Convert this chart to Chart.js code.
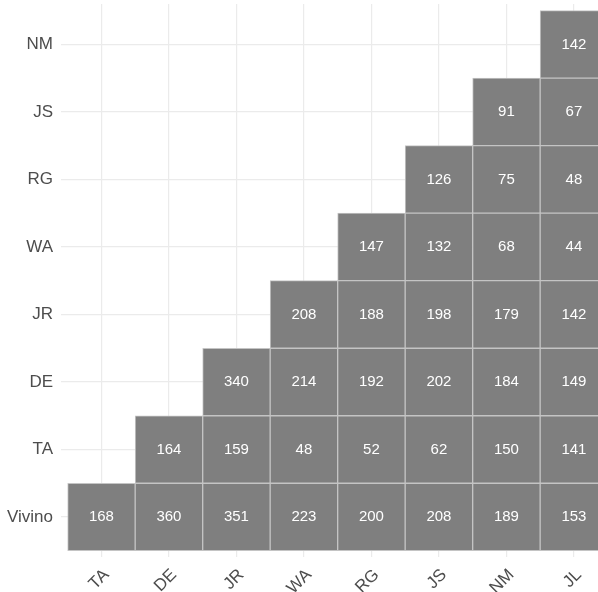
<!DOCTYPE html>
<html>
<head>
<meta charset="utf-8">
<script src="https://cdn.jsdelivr.net/npm/chart.js@4"></script>
<style>
  html, body { margin: 0; padding: 0; background: #fff; overflow: hidden; }
  canvas { display: block; }
</style>
</head>
<body>
<canvas id="heat" width="598" height="592"></canvas>
<script>
// columns left to right, rows bottom to top
const cols = ['TA', 'DE', 'JR', 'WA', 'RG', 'JS', 'NM', 'JL'];
const rows = ['Vivino', 'TA', 'DE', 'JR', 'WA', 'RG', 'JS', 'NM'];

const vivino = [168, 360, 351, 223, 200, 208, 189, 153];
const ta = [null, 164, 159, 48, 52, 62, 150, 141];
const de = [null, null, 340, 214, 192, 202, 184, 149];
const jr = [null, null, null, 208, 188, 198, 179, 142];
const wa = [null, null, null, null, 147, 132, 68, 44];
const rg = [null, null, null, null, null, 126, 75, 48];
const js = [null, null, null, null, null, null, 91, 67];
const nm = [null, null, null, null, null, null, null, 142];

const rowValues = [vivino, ta, de, jr, wa, rg, js, nm];

const tickColor = '#4d4d4d';
const fontFamily = '"Liberation Sans", Arial, Helvetica, sans-serif';

const datasets = rowValues.map(function(vals, r) {
    const pts = [];
    vals.forEach(function(v, c) {
        if (v !== null) pts.push({ x: c, y: [r - 0.5, r + 0.5], v: v });
    });
    return {
        label: rows[r],
        data: pts,
        backgroundColor: '#7f7f7f',
        borderColor: '#c4c4c4',
        borderWidth: 1,
        borderSkipped: false,
        categoryPercentage: 1,
        barPercentage: 1,
        grouped: false
    };
});

// write the count in the middle of each tile
const cellLabels = {
    id: 'cellLabels',
    afterDatasetsDraw(chart) {
        const ctx = chart.ctx;
        ctx.save();
        ctx.fillStyle = '#ffffff';
        ctx.font = '15px ' + fontFamily;
        ctx.textAlign = 'center';
        ctx.textBaseline = 'middle';
        chart.data.datasets.forEach(function(ds, i) {
            chart.getDatasetMeta(i).data.forEach(function(bar, j) {
                const yMid = (bar.y + bar.base) / 2;
                ctx.fillText(String(ds.data[j].v), bar.x, yMid);
            });
        });
        ctx.restore();
    }
};

function noPad(scale) {
    scale.paddingTop = 0;
    scale.paddingBottom = 0;
    scale.paddingLeft = 0;
    scale.paddingRight = 0;
}

new Chart(document.getElementById('heat'), {
    type: 'bar',
    data: { datasets: datasets },
    plugins: [cellLabels],
    options: {
        responsive: false,
        animation: false,
        layout: { padding: { top: 4, left: 0, right: 0, bottom: 0 } },
        plugins: {
            legend: { display: false },
            tooltip: { enabled: false }
        },
        scales: {
            x: {
                type: 'linear',
                offset: false,
                min: -0.599,
                max: 7.357,
                border: { display: false },
                grid: { color: '#ebebeb', lineWidth: 1.2, drawTicks: false, offset: false },
                afterBuildTicks: function(scale) {
                    scale.ticks = cols.map(function(c, i) { return { value: i }; });
                },
                afterFit: function(scale) { scale.height = 35; noPad(scale); },
                ticks: {
                    color: tickColor,
                    font: { family: fontFamily, size: 17 },
                    minRotation: 45,
                    maxRotation: 45,
                    padding: 8,
                    labelOffset: 5,
                    autoSkip: false,
                    callback: function(value) { return cols[value]; }
                }
            },
            y: {
                type: 'linear',
                min: -0.593,
                max: 7.599,
                border: { display: false },
                grid: { color: '#ebebeb', lineWidth: 1.2, drawTicks: false },
                afterBuildTicks: function(scale) {
                    scale.ticks = rows.map(function(r, i) { return { value: i }; });
                },
                afterFit: function(scale) { scale.width = 61; noPad(scale); },
                ticks: {
                    color: tickColor,
                    font: { family: fontFamily, size: 17 },
                    padding: 8,
                    autoSkip: false,
                    callback: function(value) { return rows[value]; }
                }
            }
        }
    }
});
</script>
</body>
</html>
